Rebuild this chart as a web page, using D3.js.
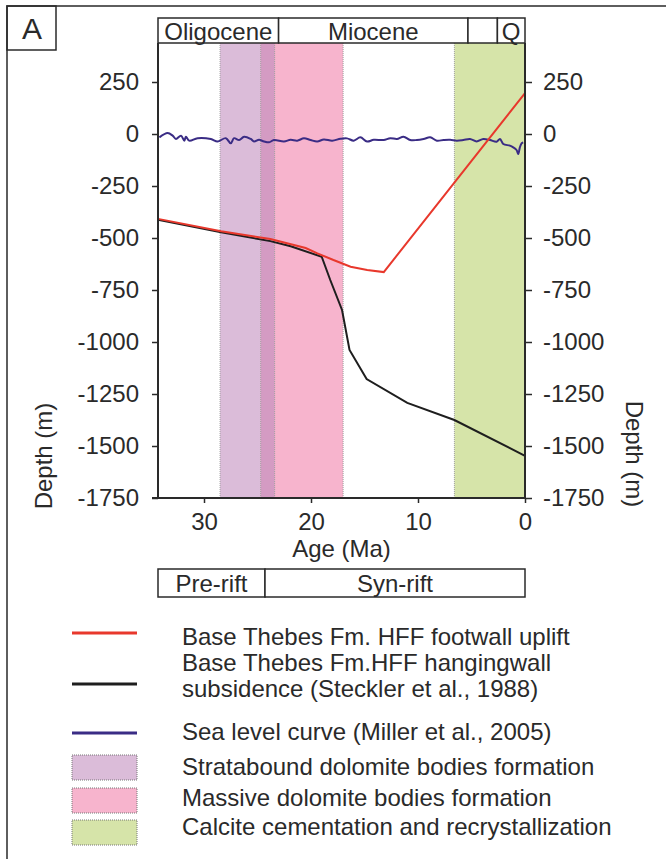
<!DOCTYPE html>
<html>
<head>
<meta charset="utf-8">
<script src="https://cdn.jsdelivr.net/npm/d3@7"></script>
<style>
  body { margin: 0; background: #fff; }
  svg { display: block; font-family: "Liberation Sans", Arial, sans-serif; }
</style>
</head>
<body>
<svg id="chart" width="666" height="859"></svg>
<script>
// ages in Ma, depths in m
var footwallAge = [34.3, 28.4, 23.8, 20.5, 19.4, 17.9, 16.3, 14.75, 13.2, 0];
var footwallDepth = [-408, -468, -505, -548, -574, -606, -638, -654, -664, 197];

var hangingAge = [34.3, 28.4, 23.8, 21.9, 19.0, 18.2, 17.1, 16.4, 14.8, 11.0, 6.6, 0];
var hangingDepth = [-412, -472, -515, -540, -590, -702, -846, -1038, -1178, -1293, -1375, -1547];

var seaAge = [34.17, 33.4, 32.93, 32.62, 32.15, 31.84, 31.69, 31.38, 30.6, 29.36, 28.74, 27.96, 27.5,
  27.19, 26.72, 26.25, 25.63, 25.32, 24.86, 24.39, 23.92, 23.46, 22.53, 21.91, 21.29, 20.66, 20.04,
  19.42, 18.8, 18.02, 17.25, 16.63, 16.01, 15.39, 14.76, 14.14, 13.21, 12.59, 11.97, 11.35, 10.73,
  10.11, 9.48, 8.86, 8.24, 7.62, 7.0, 6.38, 5.76, 5.14, 4.52, 3.9, 3.27, 2.65, 2.34, 2.03, 1.41,
  1.1, 0.79, 0.63, 0.48, 0.32, 0.17];
var seaLevel = [-16, 5, -8, -24, -8, -32, -13, -32, -20, -24, -36, -20, -45,
  -20, -29, -13, -24, -36, -28, -36, -40, -29, -36, -28, -32, -21, -29,
  -36, -26, -32, -23, -21, -32, -16, -36, -28, -29, -20, -24, -13, -29,
  -29, -24, -16, -32, -29, -28, -32, -29, -24, -36, -24, -29, -37, -24, -48, -56,
  -64, -77, -96, -64, -45, -40];

var bandNames = ['Stratabound dolomite bodies formation', 'Massive dolomite bodies formation',
  'Calcite cementation and recrystallization'];
var bandFrom = [28.5, 24.7, 6.6];
var bandTo = [23.4, 17.0, 0];
var bandColors = ['#dbbcd9', '#f7b4cd', '#d6e4a9'];

var epochNames = ['Oligocene', 'Miocene', '', 'Q'];
var epochFrom = [34.3, 23.03, 5.33, 2.58];
var epochTo = [23.03, 5.33, 2.58, 0];

var phaseNames = ['Pre-rift', 'Syn-rift'];
var phaseFrom = [34.3, 24.3];
var phaseTo = [24.3, 0];

var depthTicks = [250, 0, -250, -500, -750, -1000, -1250, -1500, -1750];
var ageTicks = [30, 20, 10, 0];

var lineNames = ['Base Thebes Fm. HFF footwall uplift',
  'Base Thebes Fm.HFF hangingwall|subsidence (Steckler et al., 1988)',
  'Sea level curve (Miller et al., 2005)'];
var lineColors = ['#e8382c', '#1e1e1e', '#3a2c85'];

var plotLeft = 158, plotRight = 525, plotTop = 43, plotBottom = 498;
var svg = d3.select('#chart');
var ink = '#2a2a2a';

var x = d3.scaleLinear().domain([34.3, 0]).range([plotLeft, plotRight]);
var y = d3.scaleLinear().domain([-1750, 437.5]).range([plotBottom, plotTop]);

// outer frame and panel letter
svg.append('rect').attr('x', 7).attr('y', 6).attr('width', 700).attr('height', 900)
  .attr('fill', 'none').attr('stroke', ink).attr('stroke-width', 1.5);
svg.append('rect').attr('x', 7).attr('y', 6).attr('width', 49).attr('height', 44)
  .attr('fill', 'none').attr('stroke', ink).attr('stroke-width', 1.5);
svg.append('text').attr('x', 32).attr('y', 39).attr('text-anchor', 'middle')
  .attr('font-size', 30).attr('fill', ink).text('A');

// shaded intervals
var bands = svg.append('g');
bandFrom.forEach(function(a, i) {
  bands.append('rect')
    .attr('x', x(a)).attr('y', plotTop)
    .attr('width', x(bandTo[i]) - x(a)).attr('height', plotBottom - plotTop)
    .attr('fill', bandColors[i]);
});
// overlap of the two dolomite phases
bands.append('rect')
  .attr('x', x(bandFrom[1])).attr('y', plotTop)
  .attr('width', x(bandTo[0]) - x(bandFrom[1])).attr('height', plotBottom - plotTop)
  .attr('fill', '#d49bc3');
bandFrom.forEach(function(a, i) {
  [a, bandTo[i]].forEach(function(edge) {
    if (edge === 0) return;
    bands.append('line')
      .attr('x1', x(edge)).attr('x2', x(edge)).attr('y1', plotTop).attr('y2', plotBottom)
      .attr('stroke', '#a0a0a0').attr('stroke-width', 1).attr('stroke-dasharray', '1,1');
  });
});

// curves
var line = d3.line().x(function(d) { return x(d[0]); }).y(function(d) { return y(d[1]); });

svg.append('path')
  .datum(d3.zip(seaAge, seaLevel))
  .attr('d', line.curve(d3.curveCatmullRom))
  .attr('fill', 'none').attr('stroke', lineColors[2]).attr('stroke-width', 2);

svg.append('path')
  .datum(d3.zip(hangingAge, hangingDepth))
  .attr('d', line.curve(d3.curveLinear))
  .attr('fill', 'none').attr('stroke', lineColors[1]).attr('stroke-width', 2);

svg.append('path')
  .datum(d3.zip(footwallAge, footwallDepth))
  .attr('d', line.curve(d3.curveLinear))
  .attr('fill', 'none').attr('stroke', lineColors[0]).attr('stroke-width', 2);

// axes
function styleAxis(g) {
  g.select('.domain').remove();
  g.selectAll('line').attr('stroke', ink).attr('stroke-width', 1.5);
  g.selectAll('text').attr('font-size', 24).attr('fill', ink)
    .attr('font-family', '"Liberation Sans", Arial, sans-serif');
}
var plain = function(d) { return String(d); };

svg.append('g').attr('transform', 'translate(' + plotLeft + ',0)')
  .call(d3.axisLeft(y).tickValues(depthTicks).tickSize(6).tickPadding(13).tickFormat(plain))
  .call(styleAxis);
svg.append('g').attr('transform', 'translate(' + plotRight + ',0)')
  .call(d3.axisRight(y).tickValues(depthTicks).tickSize(7).tickPadding(11).tickFormat(plain))
  .call(styleAxis);
svg.append('g').attr('transform', 'translate(0,' + plotBottom + ')')
  .call(d3.axisBottom(x).tickValues(ageTicks).tickSize(5).tickPadding(10).tickFormat(plain))
  .call(styleAxis);

svg.append('line').attr('x1', plotLeft).attr('x2', plotLeft).attr('y1', plotTop).attr('y2', plotBottom)
  .attr('stroke', ink).attr('stroke-width', 2);
svg.append('line').attr('x1', plotRight).attr('x2', plotRight).attr('y1', plotTop).attr('y2', plotBottom)
  .attr('stroke', ink).attr('stroke-width', 2);
svg.append('line').attr('x1', plotLeft - 6).attr('x2', plotRight).attr('y1', plotBottom).attr('y2', plotBottom)
  .attr('stroke', ink).attr('stroke-width', 2);

svg.append('text').attr('x', (plotLeft + plotRight) / 2).attr('y', 557).attr('text-anchor', 'middle')
  .attr('font-size', 24).attr('fill', ink).text('Age (Ma)');
svg.append('text').attr('transform', 'translate(52,456) rotate(-90)').attr('text-anchor', 'middle')
  .attr('font-size', 24).attr('fill', ink).text('Depth (m)');
svg.append('text').attr('transform', 'translate(626,454) rotate(90)').attr('text-anchor', 'middle')
  .attr('font-size', 24).attr('fill', ink).text('Depth (m)');

// epoch bar on top, rift phase bar below
function boxRow(names, from, to, y0, y1, baseline) {
  var g = svg.append('g');
  names.forEach(function(name, i) {
    g.append('rect').attr('x', x(from[i])).attr('y', y0)
      .attr('width', x(to[i]) - x(from[i])).attr('height', y1 - y0)
      .attr('fill', '#fff').attr('stroke', ink).attr('stroke-width', 1.5);
    g.append('text').attr('x', (x(from[i]) + x(to[i])) / 2).attr('y', baseline)
      .attr('text-anchor', 'middle').attr('font-size', 24).attr('fill', ink).text(name);
  });
}
boxRow(epochNames, epochFrom, epochTo, 18, plotTop, 40);
boxRow(phaseNames, phaseFrom, phaseTo, 569, 597, 592);

// legend
var legend = svg.append('g');
var lineRowY = [633, 684, 733];
var lineTextY = [[645], [671, 697], [740]];
lineNames.forEach(function(name, i) {
  legend.append('line').attr('x1', 72).attr('x2', 137).attr('y1', lineRowY[i]).attr('y2', lineRowY[i])
    .attr('stroke', lineColors[i]).attr('stroke-width', 3);
  name.split('|').forEach(function(part, j) {
    legend.append('text').attr('x', 182).attr('y', lineTextY[i][j])
      .attr('font-size', 24).attr('fill', ink).text(part);
  });
});
var swatchY = [755, 788, 820];
var swatchTextY = [775, 806, 835];
bandNames.forEach(function(name, i) {
  legend.append('rect').attr('x', 72).attr('y', swatchY[i]).attr('width', 65).attr('height', 25)
    .attr('fill', bandColors[i]).attr('stroke', '#777').attr('stroke-width', 1)
    .attr('stroke-dasharray', '1,1');
  legend.append('text').attr('x', 182).attr('y', swatchTextY[i])
    .attr('font-size', 24).attr('fill', ink).text(name);
});
</script>
</body>
</html>
